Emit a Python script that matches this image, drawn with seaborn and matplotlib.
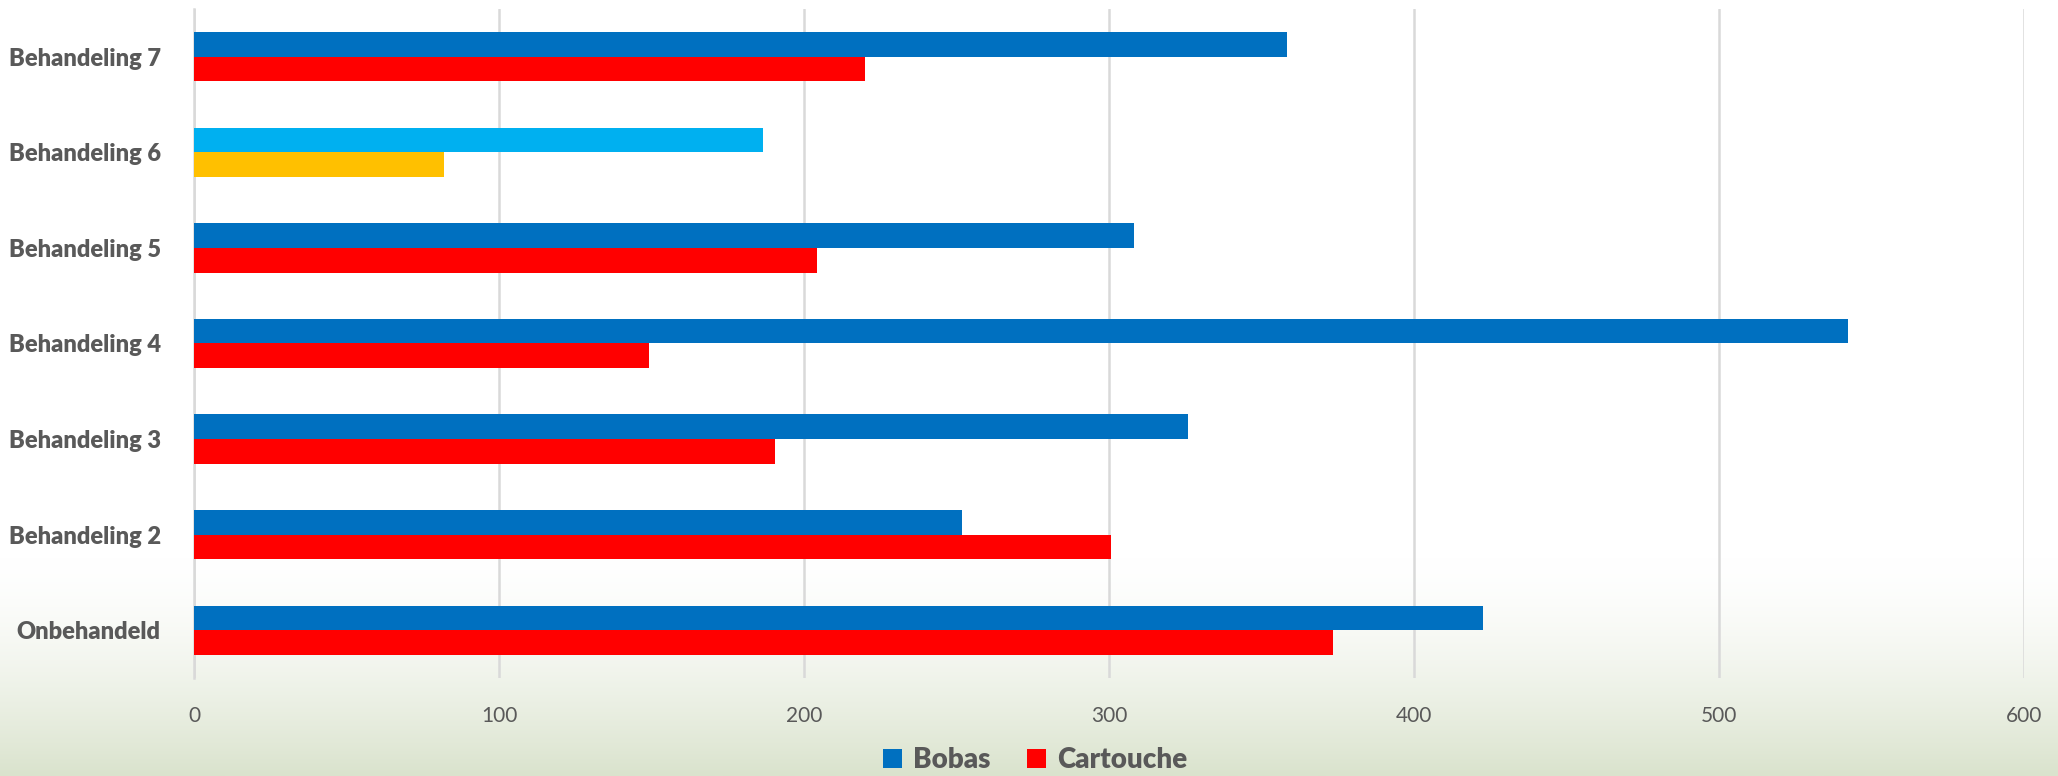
"""
Horizontal grouped bar chart: Bobas vs Cartouche per treatment.
"""
import matplotlib.pyplot as plt
import numpy as np
import pandas as pd
import seaborn as sns
from matplotlib.colors import to_rgb
from matplotlib.patches import Rectangle

# Data (top to bottom)
categories = [
    "Behandeling 7",
    "Behandeling 6",
    "Behandeling 5",
    "Behandeling 4",
    "Behandeling 3",
    "Behandeling 2",
    "Onbehandeld",
]
bobas = [358.5, 186.5, 308.1, 542.4, 325.8, 251.8, 422.5]
cartouche = [220.0, 81.9, 204.2, 149.0, 190.4, 300.6, 373.4]
series_names = ["Bobas", "Cartouche"]
x_ticks = [0, 100, 200, 300, 400, 500, 600]

# Colours
BLUE = "#0070C0"
RED = "#FF0000"
# Behandeling 6 is highlighted with other colours
HIGHLIGHT = {"Bobas": "#00B0F0", "Cartouche": "#FFC000"}
TEXT_GREY = "#595959"
GRID_GREY = "#D9D9D9"

df = pd.DataFrame(
    {
        "Behandeling": categories * 2,
        "Serie": [series_names[0]] * len(categories) + [series_names[1]] * len(categories),
        "Waarde": bobas + cartouche,
    }
)

sns.set_style("white")
plt.rcParams["font.family"] = ["Lato", "DejaVu Sans"]

fig = plt.figure(figsize=(20.58, 7.76), dpi=100, facecolor="white")

# Soft green background gradient at the bottom of the slide
bg_ax = fig.add_axes([0, 0, 1, 1], zorder=-1)
rows = np.linspace(0, 1, 400)
mix = np.clip((rows - 0.72) / 0.28, 0, 1) ** 1.5
top_col = np.array([1.0, 1.0, 1.0])
bot_col = np.array(to_rgb("#DAE3CD"))
grad = top_col[None, :] * (1 - mix[:, None]) + bot_col[None, :] * mix[:, None]
bg_ax.imshow(grad[:, None, :], aspect="auto", extent=[0, 1, 0, 1], origin="upper")
bg_ax.set_axis_off()

ax = fig.add_axes([0.0943, 0.1263, 0.8892, 0.8621])
ax.set_facecolor("none")

sns.barplot(
    data=df,
    y="Behandeling",
    x="Waarde",
    hue="Serie",
    order=categories,
    hue_order=series_names,
    palette=[BLUE, RED],
    saturation=1,
    width=0.517,
    linewidth=0,
    legend=False,
    ax=ax,
    zorder=3,
)

# Recolour the highlighted treatment
idx6 = categories.index("Behandeling 6")
for cont, name in zip(ax.containers, series_names):
    cont.patches[idx6].set_facecolor(HIGHLIGHT[name])

ax.set_xlim(0, 600)
ax.set_ylim(len(categories) - 0.5, -0.5)
ax.set_xticks(x_ticks)
ax.set_xticklabels([str(t) for t in x_ticks])
ax.xaxis.grid(True, color=GRID_GREY, linewidth=1.8, zorder=0)
ax.set_axisbelow(True)
ax.set_xlabel("")
ax.set_ylabel("")
for side in ["top", "right", "bottom"]:
    ax.spines[side].set_visible(False)
ax.spines["left"].set_color(GRID_GREY)
ax.spines["left"].set_linewidth(1.8)

ax.tick_params(axis="x", length=0, pad=20, labelsize=15, labelcolor=TEXT_GREY)
ax.tick_params(axis="y", length=0, pad=24, labelsize=17, labelcolor=TEXT_GREY)
for lab in ax.get_yticklabels():
    lab.set_fontweight("heavy")

handles = [
    Rectangle((0, 0), 1, 1, facecolor=BLUE, edgecolor="none"),
    Rectangle((0, 0), 1, 1, facecolor=RED, edgecolor="none"),
]
leg = fig.legend(
    handles,
    series_names,
    loc="center",
    bbox_to_anchor=(0.503, 0.02),
    ncol=2,
    frameon=False,
    handlelength=0.7,
    handleheight=0.7,
    handletextpad=0.4,
    columnspacing=1.3,
    prop={"size": 20, "weight": "heavy"},
)
for txt in leg.get_texts():
    txt.set_color(TEXT_GREY)

fig.savefig("out.png", dpi=100)
